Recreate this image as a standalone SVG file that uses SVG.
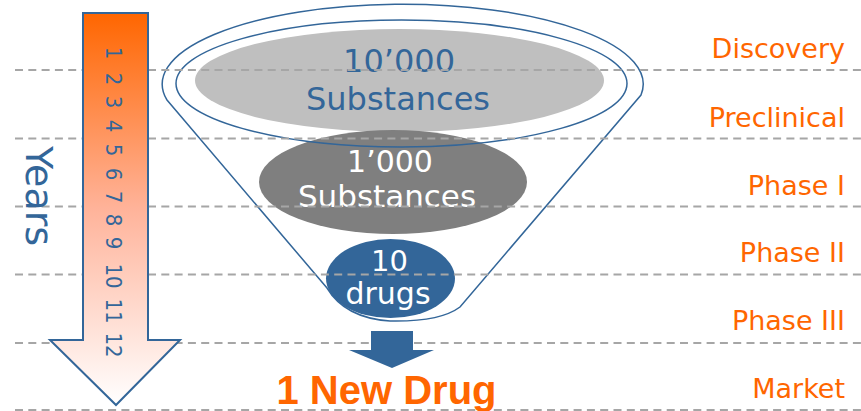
<svg xmlns="http://www.w3.org/2000/svg" width="861" height="411" viewBox="0 0 861 411">
<style>
.lbl{font-family:"DejaVu Sans",sans-serif;font-size:27px;fill:#FF6600;text-anchor:end}
.num{font-family:"DejaVu Sans Condensed","DejaVu Sans",sans-serif;font-size:22px;fill:#336699;text-anchor:middle}
.big{font-family:"DejaVu Sans",sans-serif;font-size:32px;text-anchor:middle}
.dash{stroke:#A6A6A6;stroke-width:2;stroke-dasharray:8 5.3;fill:none}
.rim{fill:none;stroke:#336699;stroke-width:1.5}
</style>
<defs>
<linearGradient id="yg" x1="0" y1="13" x2="0" y2="405" gradientUnits="userSpaceOnUse">
<stop offset="0" stop-color="#FF6600"/>
<stop offset="0.5" stop-color="#FFB39A"/>
<stop offset="1" stop-color="#FFFFFF"/>
</linearGradient>
</defs>
<rect width="861" height="411" fill="#FFFFFF"/>
<g id="funnel">
<ellipse cx="399.5" cy="80.5" rx="204.5" ry="51.5" fill="#BFBFBF"/>
<ellipse cx="393" cy="182" rx="134" ry="52" fill="#7F7F7F"/>
<ellipse cx="390.5" cy="278.5" rx="64.5" ry="39.5" fill="#336699"/>
<ellipse class="rim" cx="401.5" cy="83.5" rx="225.5" ry="63.5"/>
<path class="rim" d="M167,100 A240.5,80 0 1 1 641,95 L460,307 Q440,322 390,321 Q345,318 327,288 Z"/>
</g>
<g id="n10000">
<text class="big" x="399" y="72" fill="#336699">10’000</text>
<text class="big" x="398" y="110" fill="#336699">Substances</text>
</g>
<g id="n1000">
<text class="big" x="390" y="172" fill="#FFFFFF" style="font-size:30px">1’000</text>
<text class="big" x="387" y="207" fill="#FFFFFF" style="font-size:31px">Substances</text>
</g>
<g id="n10">
<text class="big" x="389.5" y="271" fill="#FFFFFF" style="font-size:29px">10</text>
<text class="big" x="388" y="304" fill="#FFFFFF" style="font-size:30px">drugs</text>
</g>
<g id="gridlines">
<line class="dash" x1="15" y1="70" x2="861" y2="70"/>
<line class="dash" x1="15" y1="138.5" x2="861" y2="138.5"/>
<line class="dash" x1="15" y1="206.5" x2="861" y2="206.5"/>
<line class="dash" x1="15" y1="274.5" x2="861" y2="274.5"/>
<line class="dash" x1="15" y1="343" x2="861" y2="343"/>
<line class="dash" x1="15" y1="410" x2="861" y2="410"/>
</g>
<g id="connectors">
<path d="M371,331 L413,331 L413,350 L434,350 L392,368 L349,350 L371,350 Z" fill="#336699"/>
</g>
<g id="newdrug">
<text x="386.5" y="404" style="font-family:'Liberation Sans',Arial,sans-serif;font-size:40px;font-weight:bold;fill:#FF6600;text-anchor:middle">1 New Drug</text>
</g>
<g id="years">
<path d="M83,13 L148,13 L148,340 L180,340 L116,405 L50,340 L83,340 Z" fill="url(#yg)" stroke="#336699" stroke-width="2" stroke-linejoin="miter"/>
<text transform="translate(26,196) rotate(90)" style="font-family:'DejaVu Sans',sans-serif;font-size:38px;fill:#336699;text-anchor:middle">Years</text>
<text class="num" transform="translate(106,53) rotate(90)">1</text>
<text class="num" transform="translate(106,79) rotate(90)">2</text>
<text class="num" transform="translate(106,102) rotate(90)">3</text>
<text class="num" transform="translate(106,126) rotate(90)">4</text>
<text class="num" transform="translate(106,150) rotate(90)">5</text>
<text class="num" transform="translate(106,174) rotate(90)">6</text>
<text class="num" transform="translate(106,197) rotate(90)">7</text>
<text class="num" transform="translate(106,220) rotate(90)">8</text>
<text class="num" transform="translate(106,243) rotate(90)">9</text>
<text class="num" transform="translate(106,276) rotate(90)">10</text>
<text class="num" transform="translate(106,311) rotate(90)">11</text>
<text class="num" transform="translate(106,345) rotate(90)">12</text>
</g>
<g id="phases">
<text class="lbl" x="845" y="58">Discovery</text>
<text class="lbl" x="845" y="127">Preclinical</text>
<text class="lbl" x="845" y="195">Phase I</text>
<text class="lbl" x="845" y="262">Phase II</text>
<text class="lbl" x="845" y="330">Phase III</text>
<text class="lbl" x="845" y="398">Market</text>
</g>
</svg>
